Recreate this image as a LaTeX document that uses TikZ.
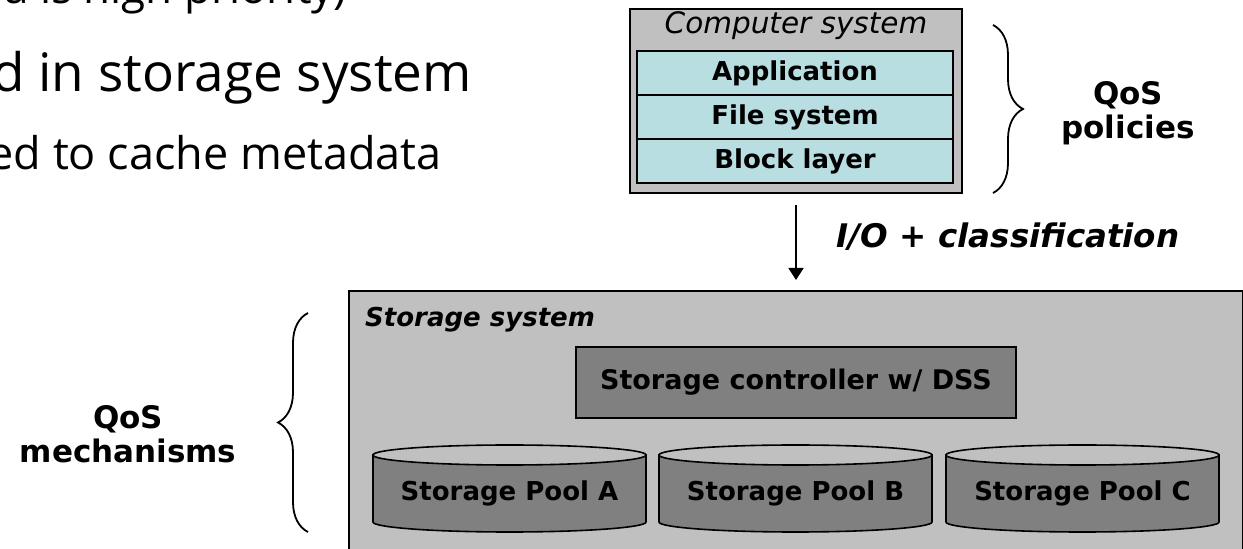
\documentclass[tikz,border=0pt]{standalone}
\usepackage{fontspec}
\setmainfont{DejaVu Sans}
\newfontfamily\slidefont{Open Sans}
\usetikzlibrary{arrows.meta, positioning, decorations.pathreplacing}
\definecolor{BoxGray}{HTML}{C0C0C0}
\definecolor{DarkGray}{HTML}{808080}
\definecolor{LayerCyan}{HTML}{B8DEE2}

\begin{document}
\begin{tikzpicture}[
    x=1pt, y=1pt,
    outerbox/.style={
      rectangle, draw=black, fill=BoxGray,
      line width=1.8pt, outer sep=0pt, inner sep=0pt
    },
    layer/.style={
      rectangle, draw=black, fill=LayerCyan,
      line width=1.6pt, outer sep=0pt, inner sep=0pt,
      minimum width=316pt, minimum height=44pt,
      font=\fontsize{26}{30}\selectfont\bfseries
    },
    ctrlbox/.style={
      rectangle, draw=black, fill=DarkGray,
      line width=1.6pt, inner sep=0pt,
      minimum width=440pt, minimum height=71pt,
      font=\fontsize{27}{31}\selectfont\bfseries
    },
    pool/.style={
      rectangle, inner sep=0pt,
      font=\fontsize{26}{31}\selectfont\bfseries
    },
    cylbody/.style={draw=black, fill=DarkGray, line width=1.6pt},
    cyltop/.style={draw=black, fill=BoxGray, line width=1.6pt},
    headtext/.style={inner sep=0pt, font=\fontsize{26}{31}\selectfont\bfseries\itshape},
    qos/.style={align=center, font=\fontsize{31}{34}\selectfont\bfseries},
    slidetext/.style={anchor=base east, inner sep=0pt},
    brace/.style={decorate, decoration={brace, amplitude=30pt}, line width=1.8pt},
    arr/.style={-{Triangle[length=12pt, width=15pt]}, line width=1.8pt}
  ]
  \useasboundingbox (0,0) rectangle (1243,549);
  \clip (0,0) rectangle (1243,549);

  % slide text behind the figure
  \node[slidetext, font=\slidefont\fontsize{44}{50}\selectfont] (slideA) at (347,545) {a is high priority)};
  \node[slidetext, font=\slidefont\fontsize{53}{60}\selectfont] (slideB) at (472,457) {d in storage system};
  \node[slidetext, font=\slidefont\fontsize{45}{52}\selectfont] (slideC) at (442,379) {ed to cache metadata};

  % computer system
  \node[outerbox, minimum width=332pt, minimum height=184pt] (compsys) at (796,448) {};
  \node[headtext, font=\fontsize{29.5}{34}\selectfont\itshape] (comptitle) at (796,523) {Computer system};
  \node[layer] (app) at (795,476) {Application};
  \node[layer, below=0pt of app] (fs) {File system};
  \node[layer, below=0pt of fs] (block) {Block layer};

  \draw[brace] (993,524) -- (993,356);
  \node[qos] (qospol) at (1128,435.5) {QoS\\policies};

  % storage system
  \node[outerbox, minimum width=894pt, minimum height=279pt] (storage) at (796,118.5) {};
  \node[headtext, anchor=west] (stortitle) at (365,229) {Storage system};
  \node[ctrlbox] (ctrl) at (796,166.5) {Storage controller w/ DSS};

  \foreach \cx/\name/\lbl in {509.5/poolA/A, 795.5/poolB/B, 1082.5/poolC/C} {
    \draw[cylbody] (\cx-136.5,94) -- (\cx-136.5,27)
      arc[start angle=180, end angle=360, x radius=136.5, y radius=10]
      -- (\cx+136.5,94) -- cycle;
    \draw[cyltop] (\cx,94) ellipse[x radius=136.5, y radius=10];
    \node[pool] (\name) at (\cx,56) {Storage Pool \lbl};
  }

  \draw[brace] (308,17) -- (308,236);
  \node[qos] (qosmech) at (128,115) {QoS\\mechanisms};

  \draw[arr, shorten <=12pt, shorten >=11pt] (compsys) -- (storage)
    node[midway, right=40pt, yshift=5pt, inner sep=0pt,
         font=\fontsize{32.5}{37}\selectfont\bfseries\itshape] (iolbl) {I/O + classification};
\end{tikzpicture}
\end{document}
